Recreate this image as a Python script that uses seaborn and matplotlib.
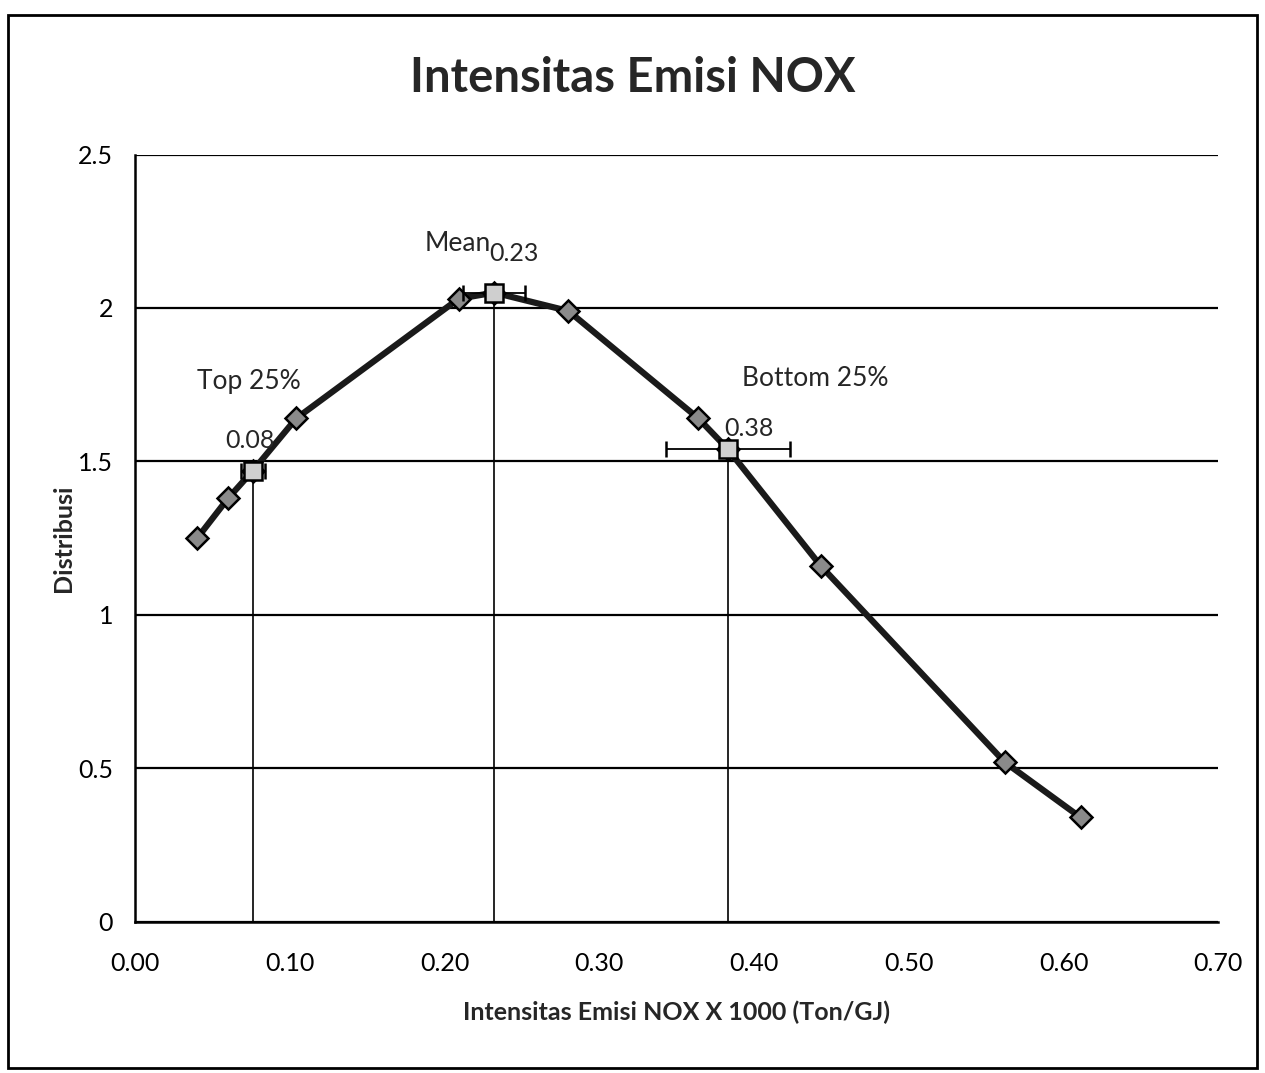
import numpy as np
import pandas as pd
import matplotlib
matplotlib.use("Agg")
import matplotlib.pyplot as plt
import seaborn as sns

# data
x_vals = [0.040, 0.060, 0.076, 0.104, 0.209, 0.232, 0.280, 0.364, 0.383, 0.443, 0.562, 0.611]
y_vals = [1.25, 1.38, 1.47, 1.64, 2.03, 2.05, 1.99, 1.64, 1.54, 1.16, 0.52, 0.34]

# marked points: top 25%, mean, bottom 25%
mark_names = ["Top 25%", "Mean", "Bottom 25%"]
mark_x = [0.076, 0.232, 0.383]
mark_y = [1.47, 2.05, 1.54]
mark_txt = ["0.08", "0.23", "0.38"]
mark_xerr = [0.008, 0.02, 0.04]

x_ticks = [0.00, 0.10, 0.20, 0.30, 0.40, 0.50, 0.60, 0.70]
y_ticks = [0, 0.5, 1, 1.5, 2, 2.5]

df = pd.DataFrame({"x": x_vals, "y": y_vals})

sns.set_style("white")
plt.rcParams['font.family'] = ['Lato', 'DejaVu Sans']

fig = plt.figure(figsize=(12.65, 10.73), dpi=100)
ax = fig.add_axes([0.107, 0.141, 0.856, 0.715])

# horizontal grid
for yv in y_ticks:
    ax.axhline(yv, color="black", lw=1.6, zorder=1)

# vertical reference lines down to x axis
for mx, my in zip(mark_x, mark_y):
    ax.vlines(mx, 0, my, color="black", lw=1.2, zorder=2)

# main curve
sns.lineplot(data=df, x="x", y="y", ax=ax, color="#1a1a1a", lw=4.5,
             marker="D", markersize=11, markerfacecolor="#8a8a8a",
             markeredgecolor="black", markeredgewidth=1.8, zorder=3)

# highlighted points with horizontal error bars
ax.errorbar(mark_x, mark_y, xerr=mark_xerr, fmt="s", ms=13,
            mfc="#cfcfcf", mec="black", mew=1.8, ecolor="black",
            elinewidth=1.3, capsize=6, zorder=4)

# labels
ax.text(0.040, 1.72, mark_names[0], fontsize=19, ha="left", va="bottom")
ax.text(0.058, 1.53, mark_txt[0], fontsize=18, ha="left", va="bottom")
ax.text(0.187, 2.17, mark_names[1], fontsize=19, ha="left", va="bottom")
ax.text(0.229, 2.14, mark_txt[1], fontsize=18, ha="left", va="bottom")
ax.text(0.392, 1.73, mark_names[2], fontsize=19, ha="left", va="bottom")
ax.text(0.381, 1.57, mark_txt[2], fontsize=18, ha="left", va="bottom")

ax.set_xlim(0, 0.70)
ax.set_ylim(0, 2.5)
ax.set_xticks(x_ticks)
ax.set_xticklabels([f"{v:.2f}" for v in x_ticks], fontsize=18)
ax.set_yticks(y_ticks)
ax.set_yticklabels(["0", "0.5", "1", "1.5", "2", "2.5"], fontsize=18)
ax.tick_params(axis="x", pad=22, length=0, colors="black")
ax.tick_params(axis="y", pad=16, length=0, colors="black")

for s in ["top", "right"]:
    ax.spines[s].set_visible(False)
for s in ["left", "bottom"]:
    ax.spines[s].set_color("black")
    ax.spines[s].set_linewidth(1.8)

ax.set_xlabel("Intensitas Emisi NOX X 1000 (Ton/GJ)", fontsize=18,
              fontweight="bold", labelpad=18)
ax.set_ylabel("Distribusi", fontsize=18, fontweight="bold", labelpad=2)

fig.text(0.5, 0.927, "Intensitas Emisi NOX", fontsize=34, fontweight="bold",
         ha="center", va="center")

# outer chart border
fig.patches.append(plt.Rectangle((0.006, 0.005), 0.988, 0.981,
                                 transform=fig.transFigure, fill=False,
                                 edgecolor="black", lw=2))

fig.savefig("out.png", dpi=100)
